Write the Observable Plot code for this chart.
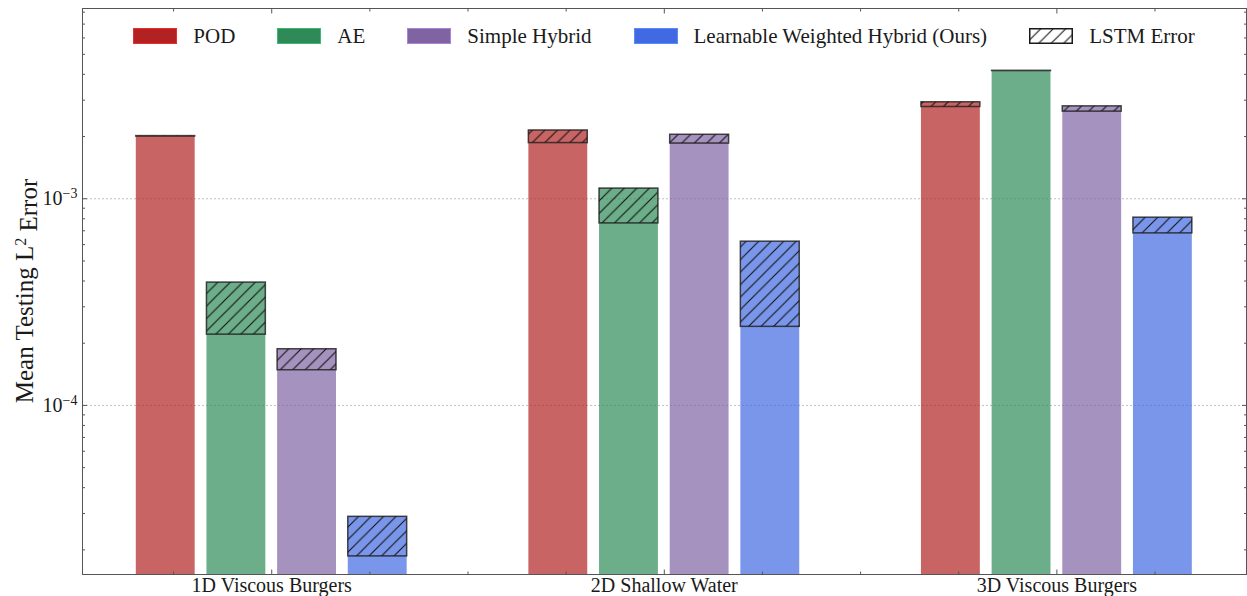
<!DOCTYPE html>
<html>
<head>
<meta charset="utf-8">
<script src="https://cdn.jsdelivr.net/npm/d3@7"></script>
<script src="https://cdn.jsdelivr.net/npm/@observablehq/plot@0.6"></script>
<style>
  body { margin: 0; background: #fff; }
  #chart { position: relative; width: 1247px; height: 596px; font-family: "Liberation Serif", serif; }
  #chart > svg { position: absolute; left: 0; top: 0; }
  #legend { position: absolute; top: 26px; left: 82px; width: 1164px; height: 20px;
            display: flex; justify-content: center; align-items: center;
            font-size: 21px; color: #1a1a1a; }
  .item { display: flex; align-items: center; margin: 0 21px; white-space: nowrap; }
  .sw { width: 44px; height: 16px; margin-right: 16px; box-sizing: border-box; flex: none; }
</style>
</head>
<body>
<div id="chart"><div id="legend"></div></div>
<script>
// Datasets (x categories) and reduced-order models (bar series)
const datasets = ["1D Viscous Burgers", "2D Shallow Water", "3D Viscous Burgers"];
const methods = ["POD", "AE", "Simple Hybrid", "Learnable Weighted Hybrid (Ours)"];
const methodColors = ["#b22222", "#2e8b57", "#8064a2", "#4169e1"];

// Reconstruction error of each model, one value per dataset
const podError    = [2.00e-3, 1.86e-3, 2.78e-3];
const aeError     = [2.20e-4, 7.60e-4, 4.15e-3];
const simpleError = [1.48e-4, 1.85e-3, 2.64e-3];
const oursError   = [1.86e-5, 2.40e-4, 6.80e-4];

// Additional error introduced by LSTM time stepping (stacked on top)
const podLstm    = [0.01e-3, 0.28e-3, 0.15e-3];
const aeLstm     = [1.73e-4, 3.60e-4, 0.01e-3];
const simpleLstm = [0.39e-4, 0.19e-3, 0.16e-3];
const oursLstm   = [1.03e-5, 3.80e-4, 1.30e-4];

// Axis ticks and labels
const yMajorTicks = [1e-4, 1e-3];
const yTickExponents = ["\u22124", "\u22123"];
const xMinorTicks = [-0.25, 0.25, 0.5, 0.75, 1.25, 1.5, 1.75, 2.25];
const yTitle = "Mean Testing L";
const yTitleSup = "2";
const yTitleEnd = " Error";

const baseSeries = [podError, aeError, simpleError, oursError];
const lstmSeries = [podLstm, aeLstm, simpleLstm, oursLstm];

const yDomain = [1.52e-5, 8.33e-3];
const barWidth = 0.15, barStep = 0.18;

const rows = [];
methods.forEach((m, i) => {
  datasets.forEach((ds, j) => {
    const center = j + (i - 1.5) * barStep;
    rows.push({
      method: m, dataset: ds, color: methodColors[i],
      x1: center - barWidth / 2, x2: center + barWidth / 2,
      base: baseSeries[i][j], total: baseSeries[i][j] + lstmSeries[i][j]
    });
  });
});

// minor log ticks 2..9 x 10^k inside the domain
const yMinorTicks = [];
for (let e = -5; e <= -3; e++) for (let k = 2; k <= 9; k++) {
  const v = k * 10 ** e;
  if (v > yDomain[0] && v < yDomain[1]) yMinorTicks.push(v);
}

const frameColor = "#555";
const W = 1247, H = 596, mL = 82, mR = 1, mT = 8, mB = 22;

const chart = Plot.plot({
  width: W, height: H,
  marginLeft: mL, marginRight: mR, marginTop: mT, marginBottom: mB,
  style: { fontFamily: "Liberation Serif, serif", fontSize: "20px", color: "#1a1a1a", background: "transparent", overflow: "visible" },
  x: { domain: [-0.482, 2.483] },
  y: { type: "log", domain: yDomain },
  marks: [
    Plot.gridY(yMajorTicks, { stroke: "#b0b0b0", strokeOpacity: 1, strokeWidth: 0.8, strokeDasharray: "2,2" }),
    // error of the model itself
    Plot.rect(rows, { x1: "x1", x2: "x2", y1: yDomain[0], y2: "base", fill: "color", fillOpacity: 0.7, clip: true }),
    // LSTM error segment
    Plot.rect(rows, { x1: "x1", x2: "x2", y1: "base", y2: "total", fill: "color", fillOpacity: 0.7 }),
    Plot.rect(rows, { x1: "x1", x2: "x2", y1: "base", y2: "total", fill: "url(#lstm-hatch)", stroke: "#1a1a1a", strokeWidth: 1.5, strokeOpacity: 0.8 }),
    // axes: ticks point inward on all four sides
    Plot.axisY(yMajorTicks, { anchor: "left", tickSize: -5, tickPadding: 10, stroke: frameColor,
      tickFormat: d => yTickExponents[yMajorTicks.indexOf(d)], label: null, fontSize: 20 }),
    Plot.axisY(yMinorTicks, { anchor: "left", tickSize: -3, tickFormat: () => "", label: null, stroke: frameColor }),
    Plot.axisY(yMajorTicks, { anchor: "right", tickSize: -5, tickFormat: () => "", label: null, stroke: frameColor }),
    Plot.axisY(yMinorTicks, { anchor: "right", tickSize: -3, tickFormat: () => "", label: null, stroke: frameColor }),
    Plot.axisX([0, 1, 2], { anchor: "bottom", tickSize: -4.5, tickPadding: 8, stroke: frameColor, tickFormat: i => datasets[i], label: null, fontSize: 20 }),
    Plot.axisX(xMinorTicks, { anchor: "bottom", tickSize: -2.5, tickFormat: () => "", label: null, stroke: frameColor }),
    Plot.axisX([0, 1, 2], { anchor: "top", tickSize: -4.5, tickFormat: () => "", label: null, stroke: frameColor }),
    Plot.axisX(xMinorTicks, { anchor: "top", tickSize: -2.5, tickFormat: () => "", label: null, stroke: frameColor }),
    Plot.frame({ stroke: frameColor, strokeWidth: 1 })
  ]
});

// hatch pattern for the LSTM error segments
const svg = d3.select(chart);
const defs = svg.insert("defs", ":first-child");
const pat = defs.append("pattern").attr("id", "lstm-hatch")
  .attr("patternUnits", "userSpaceOnUse").attr("width", 12.5).attr("height", 12.5);
pat.append("path")
  .attr("d", "M-1,1 L1,-1 M0,12.5 L12.5,0 M11.5,13.5 L13.5,11.5")
  .attr("stroke", "#111").attr("stroke-width", 1.1).attr("fill", "none");

// y tick labels as 10 with a superscript exponent
svg.selectAll('g[aria-label="y-axis tick label"] text').each(function () {
  const t = d3.select(this);
  const exp = t.text();
  if (!exp) return;
  t.text("10");
  t.append("tspan").attr("dy", "-0.5em").attr("font-size", "14px").text(exp);
});

// y axis title, rotated, centred on the plot frame
const title = svg.append("text")
  .attr("transform", `translate(33,${(mT + H - mB) / 2}) rotate(-90)`)
  .attr("text-anchor", "middle").attr("font-size", 25).attr("fill", "#1a1a1a");
title.append("tspan").text(yTitle);
title.append("tspan").attr("dy", "-0.45em").attr("font-size", 16).text(yTitleSup);
title.append("tspan").attr("dy", "0.45em").text(yTitleEnd);

document.getElementById("chart").prepend(chart);

// legend inside the plot frame
const legend = d3.select("#legend");
methods.forEach((m, i) => {
  const it = legend.append("div").attr("class", "item");
  it.append("div").attr("class", "sw")
    .style("background", methodColors[i])
    .style("border", "1px solid " + d3.color(methodColors[i]).brighter(0.8));
  it.append("span").text(m);
});
{
  const it = legend.append("div").attr("class", "item");
  const s = it.append("svg").attr("class", "sw").attr("width", 44).attr("height", 16);
  s.append("rect").attr("x", 0.75).attr("y", 0.75).attr("width", 42.5).attr("height", 14.5)
    .attr("fill", "url(#lstm-hatch)").attr("stroke", "#1a1a1a").attr("stroke-width", 1.5);
  it.append("span").text("LSTM Error");
}
</script>
</body>
</html>
